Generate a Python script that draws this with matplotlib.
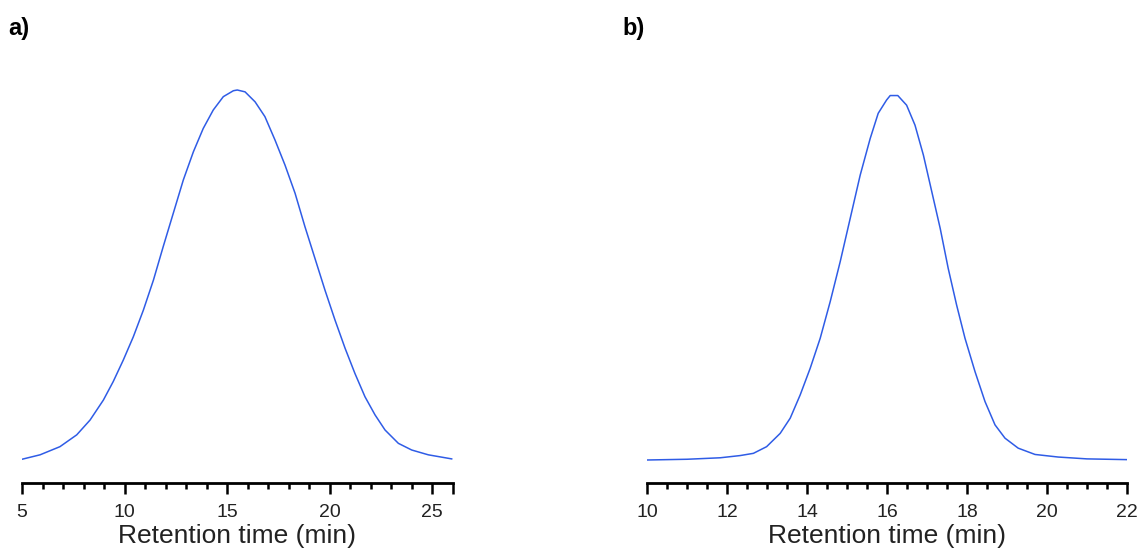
import numpy as np
import matplotlib.pyplot as plt
from matplotlib.ticker import MultipleLocator, FixedLocator

plt.rcParams['font.family'] = ['Liberation Sans', 'DejaVu Sans']

# panel a) retention time (min) vs normalised detector signal
time_a = [5.0, 5.88, 6.85, 7.67, 8.32, 8.97, 9.45, 9.94, 10.43, 10.92, 11.41,
          11.89, 12.38, 12.87, 13.36, 13.84, 14.33, 14.82, 15.31, 15.5,
          15.88, 16.37, 16.85, 17.34, 17.83, 18.32, 18.80, 19.29, 19.78, 20.27,
          20.76, 21.24, 21.73, 22.22, 22.71, 23.36, 24.01, 24.82, 25.96]
signal_a = [0.002, 0.014, 0.036, 0.068, 0.108, 0.162, 0.212, 0.270, 0.333, 0.405, 0.486,
            0.577, 0.667, 0.757, 0.833, 0.896, 0.946, 0.982, 0.998, 1.0,
            0.995, 0.968, 0.928, 0.865, 0.797, 0.721, 0.631, 0.545, 0.459, 0.378,
            0.302, 0.234, 0.171, 0.122, 0.081, 0.045, 0.027, 0.014, 0.003]

# panel b)
time_b = [10.0, 11.0, 11.83, 12.33, 12.66, 12.99, 13.33, 13.58, 13.83, 14.08, 14.33,
          14.58, 14.83, 15.08, 15.33, 15.58, 15.78, 15.99, 16.08, 16.27, 16.49,
          16.70, 16.91, 17.12, 17.33, 17.53, 17.74, 17.95, 18.20, 18.45, 18.70,
          18.95, 19.28, 19.70, 20.28, 21.0, 22.0]
signal_b = [0.0, 0.002, 0.006, 0.012, 0.018, 0.036, 0.072, 0.113, 0.176, 0.248, 0.329,
            0.428, 0.536, 0.653, 0.770, 0.869, 0.937, 0.973, 0.985, 0.985, 0.959,
            0.905, 0.824, 0.725, 0.626, 0.518, 0.419, 0.329, 0.239, 0.158, 0.095,
            0.059, 0.032, 0.015, 0.008, 0.003, 0.001]

W, H = 1139, 553
fig = plt.figure(figsize=(W / 100, H / 100), dpi=100)

line_color = '#2f5ce6'
ylim = (-23 / 370, 400 / 370)


def setup(ax, xmin, xmax, major, minor, extra_major=None):
    ax.set_xlim(xmin, xmax)
    ax.set_ylim(*ylim)
    for s in ['top', 'right', 'left']:
        ax.spines[s].set_visible(False)
    ax.spines['bottom'].set_linewidth(2.0)
    ax.spines['bottom'].set_color('black')
    ax.set_yticks([])
    ticks = list(np.arange(xmin, xmax + 0.001, major))
    labels = ['%g' % t for t in ticks]
    if extra_major is not None:
        ticks.append(extra_major)
        labels.append('')
    ax.xaxis.set_major_locator(FixedLocator(ticks))
    ax.set_xticklabels(labels)
    ax.xaxis.set_minor_locator(MultipleLocator(minor))
    ax.tick_params(axis='x', which='major', direction='out', length=8, width=1.8,
                   labelsize=14, pad=7, colors='black', labelcolor='#222222')
    ax.tick_params(axis='x', which='minor', direction='out', length=4, width=1.8)
    ax.set_xlabel('Retention time (min)', fontsize=19, color='#222222', labelpad=2)


ax1 = fig.add_axes([22 / W, 70 / H, 430.5 / W, 423 / H])
ax1.plot(time_a, signal_a, color=line_color, lw=1.1)
setup(ax1, 5, 26, 5, 1, extra_major=26)

ax2 = fig.add_axes([647 / W, 70 / H, 480 / W, 423 / H])
ax2.plot(time_b, signal_b, color=line_color, lw=1.1)
setup(ax2, 10, 22, 2, 0.5)

fig.text(8 / W, 1 - 28 / H, 'a)', fontsize=17, fontweight='bold', va='center', ha='left')
fig.text(622 / W, 1 - 28 / H, 'b)', fontsize=17, fontweight='bold', va='center', ha='left')

fig.savefig('out.png', dpi=100, facecolor='white')
